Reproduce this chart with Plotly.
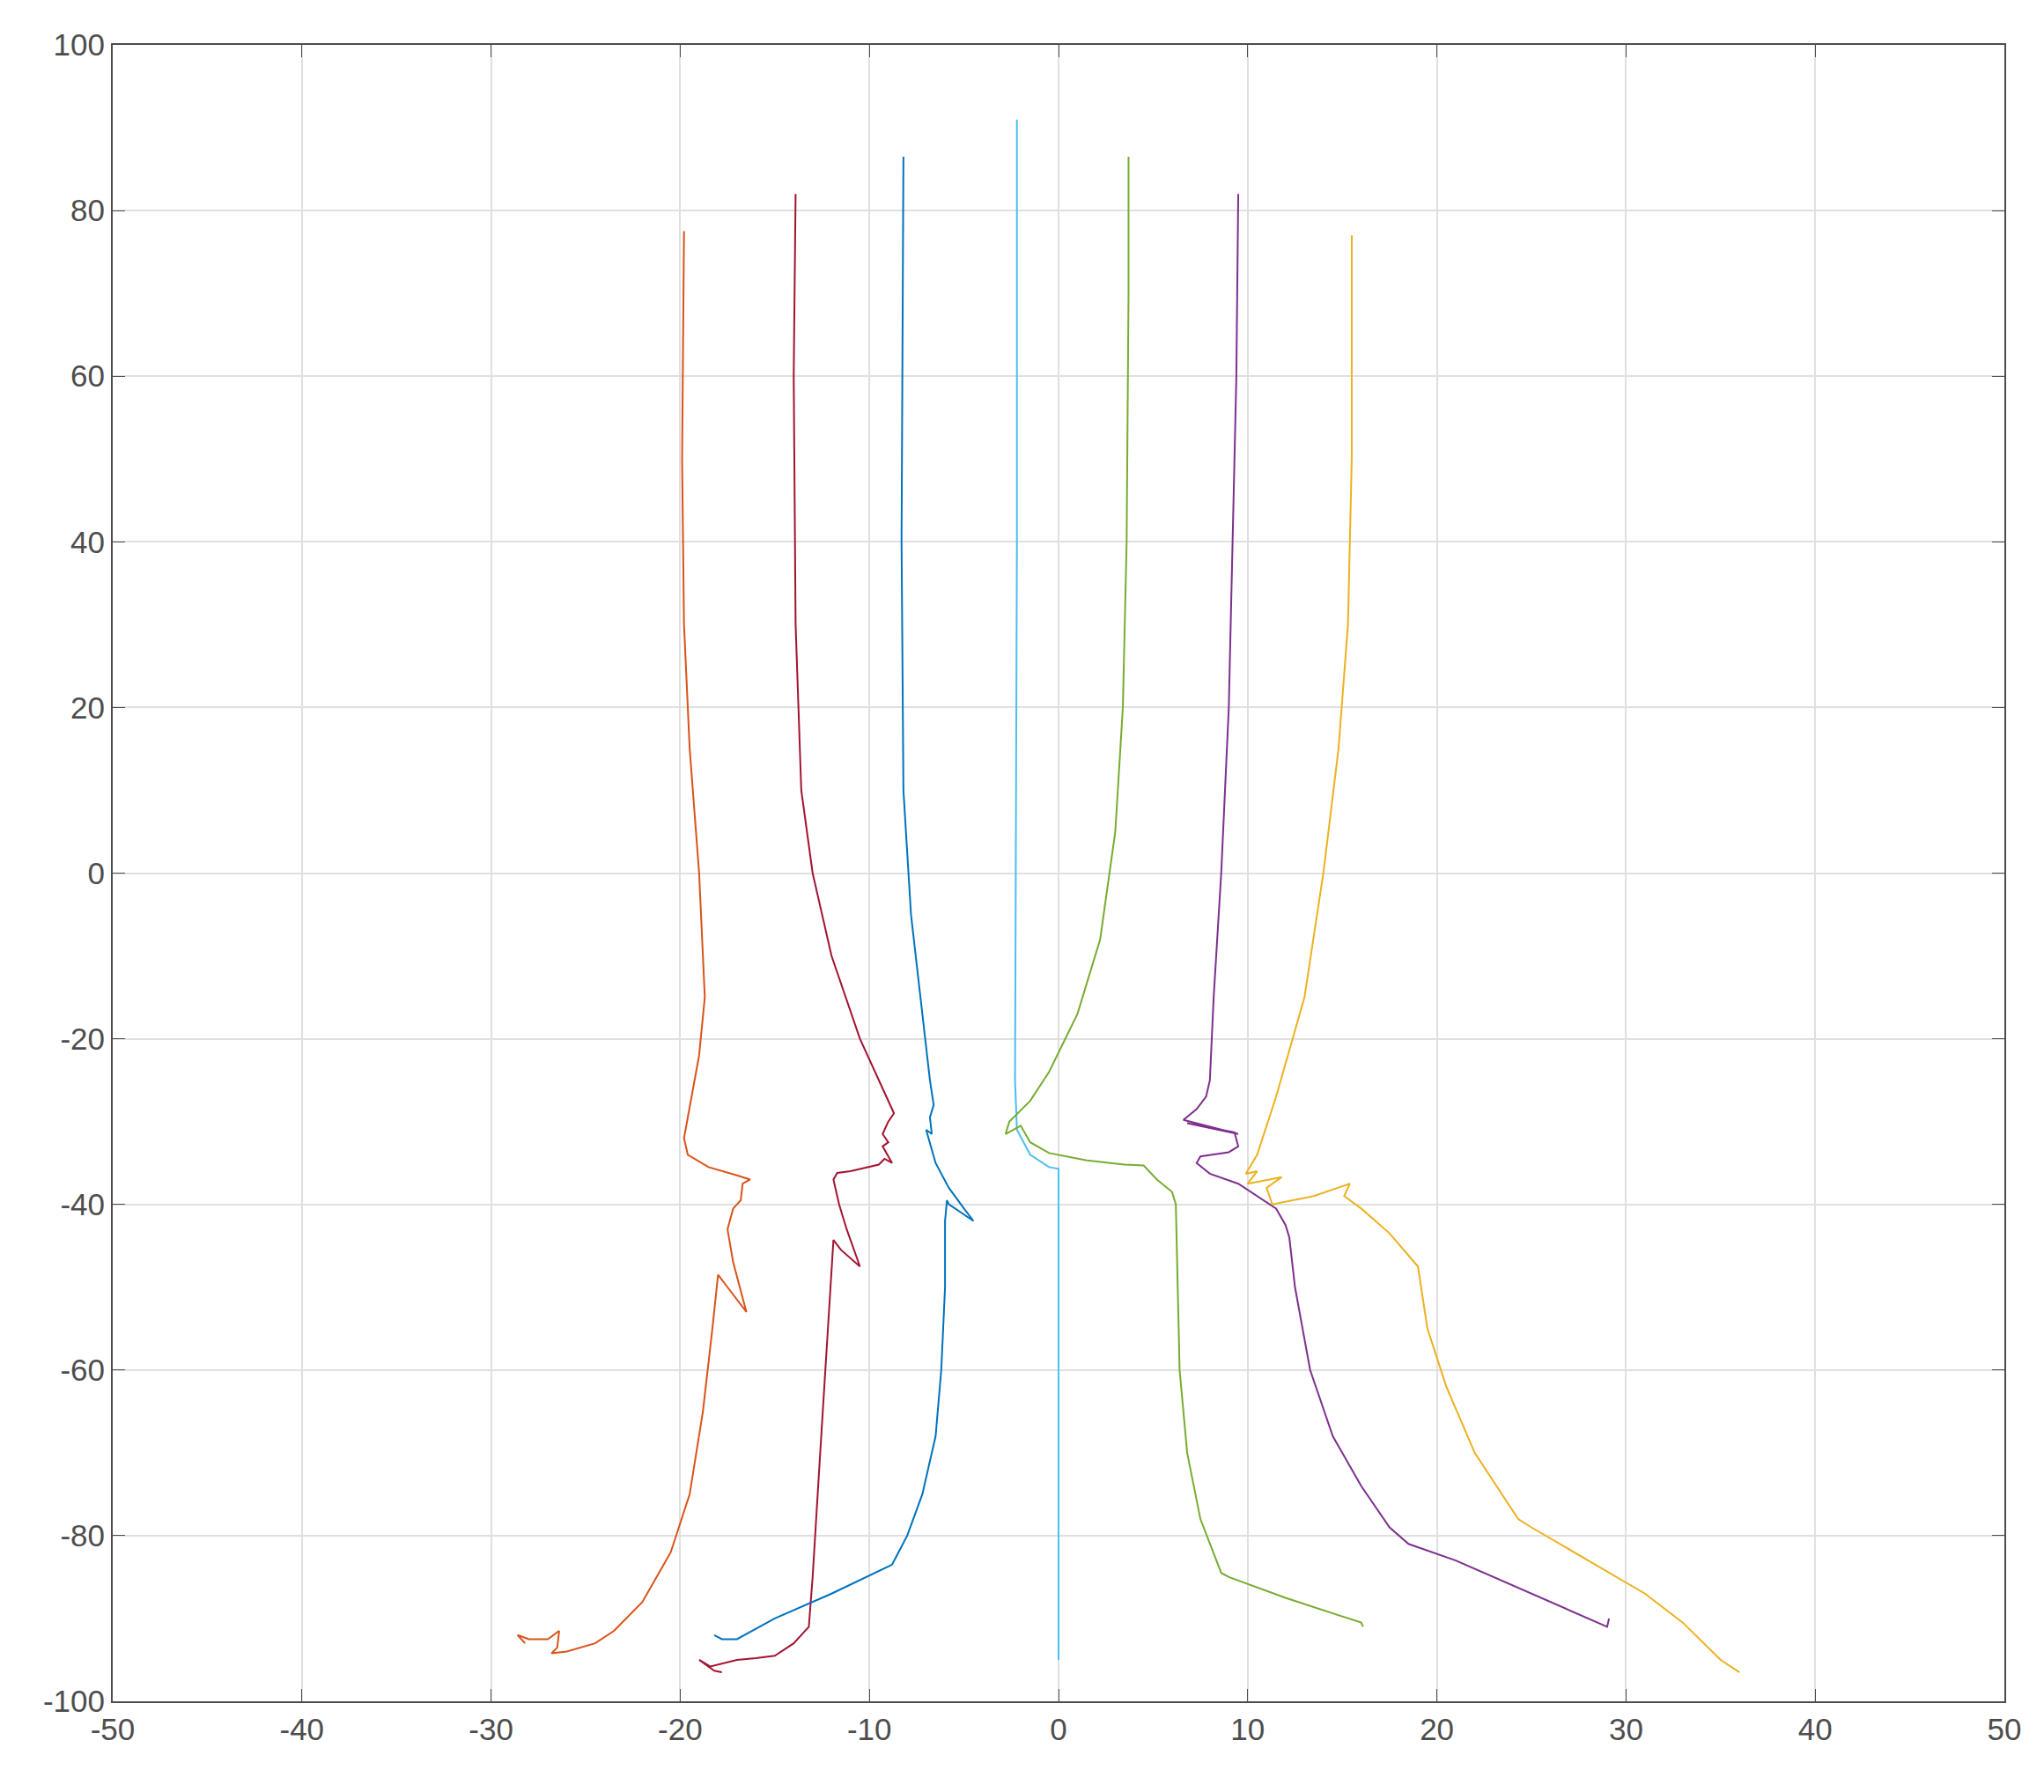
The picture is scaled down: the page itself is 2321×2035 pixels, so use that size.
import plotly.graph_objects as go

# traced paths, one per colour
light_blue_x = [-2.2, -2.2, -2.3, -2.2, -1.5, -0.5, 0, 0]
light_blue_y = [91, 40, -25, -31, -34, -35.5, -35.7, -95]

blue_x = [-8.2, -8.3, -8.2, -7.8, -7.3, -6.8, -6.6, -6.8, -6.7, -7, -6.5, -5.8, -5, -4.5, -5.8, -5.9, -6, -6, -6.2,
          -6.5, -7.2, -8, -8.8, -12, -15, -17, -17.8, -18.2]
blue_y = [86.5, 40, 10, -5, -15, -25, -28, -29.5, -31.5, -31, -35, -38, -40.5, -42, -40, -39.5, -42, -50, -60,
          -68, -75, -80, -83.5, -87, -90, -92.5, -92.5, -92]

dark_red_x = [-13.9, -14, -13.9, -13.6, -13, -12, -10.5, -9.5, -8.7, -9.0, -9.3, -9.0, -9.3, -8.8, -9.2, -9.5, -11,
              -11.7, -11.9, -11.6, -11.2, -10.5, -11.5, -11.9, -12.2, -12.6, -13, -13.2, -14, -15, -16, -17, -18.4,
              -19, -18.2, -17.8]
dark_red_y = [82, 60, 30, 10, 0, -10, -20, -25, -29, -30, -31.5, -32.5, -33, -35, -34.5, -35.2, -36, -36.2, -37,
              -40, -43, -47.5, -45.5, -44.3, -55, -70, -85, -91, -93, -94.5, -94.8, -95, -95.8, -95, -96.3, -96.5]

orange_x = [-19.8, -19.9, -19.8, -19.5, -19, -18.7, -19, -19.5, -19.8, -19.6, -18.5, -17, -16.3, -16.7, -16.8,
            -17.2, -17.5, -17.2, -16.5, -17.5, -18, -18.3, -18.8, -19.5, -20.5, -22, -23.5, -24.5, -26, -26.8,
            -26.5, -26.4, -27, -28, -28.6, -28.2]
orange_y = [77.5, 50, 30, 15, 0, -15, -22, -28, -32, -34, -35.5, -36.5, -37, -37.5, -39.5, -40.5, -43, -47, -53,
            -50, -48.5, -55, -65, -75, -82, -88, -91.5, -93, -94, -94.2, -93.5, -91.5, -92.5, -92.5, -92, -93]

green_x = [3.7, 3.7, 3.6, 3.4, 3.0, 2.2, 1, -0.5, -1.5, -2.6, -2.8, -2.0, -1.5, -0.5, 1.5, 3.5, 4.5, 5.2, 6, 6.2,
           6.3, 6.4, 6.8, 7.5, 8.6, 9, 12, 16, 16.1]
green_y = [86.5, 70, 40, 20, 5, -8, -17, -24, -27.5, -30, -31.5, -30.5, -32.5, -33.8, -34.7, -35.2, -35.3, -37,
           -38.5, -40, -50, -60, -70, -78, -84.5, -85, -87.5, -90.5, -91]

purple_x = [9.5, 9.4, 9.2, 9.0, 8.6, 8.2, 8.0, 7.8, 7.3, 6.6, 9.5, 6.8, 9.3, 9.5, 9.0, 7.5, 7.3, 8, 9.5, 10.5,
            11.5, 12, 12.2, 12.5, 13.3, 14.5, 16, 17.5, 18.5, 21, 25, 29, 29.1]
purple_y = [82, 60, 40, 20, 0, -15, -25, -27, -28.5, -29.8, -31.5, -30.2, -31.3, -33, -33.7, -34.2, -35, -36.3,
            -37.5, -39, -40.5, -42.5, -44, -50, -60, -68, -74, -79, -81, -83, -87, -91, -90]

yellow_x = [15.5, 15.5, 15.3, 14.8, 14, 13, 11.5, 10.5, 9.9, 10.5, 10, 11.8, 11, 11.3, 13.5, 15.4, 15.1, 16, 17.5,
            19, 19.5, 20.5, 22, 24.3, 25, 28, 31, 33, 35, 36]
yellow_y = [77, 50, 30, 15, 0, -15, -27, -34, -36.3, -36, -37.5, -36.7, -38, -40, -39, -37.5, -39, -40.5, -43.5,
            -47.5, -55, -62, -70, -78, -79, -83, -87, -90.5, -95, -96.5]

x_ticks = list(range(-50, 51, 10))
y_ticks = list(range(-100, 101, 20))

series = [
    (orange_x, orange_y, '#D95319'),
    (dark_red_x, dark_red_y, '#A2142F'),
    (blue_x, blue_y, '#0072BD'),
    (light_blue_x, light_blue_y, '#4DBEEE'),
    (green_x, green_y, '#77AC30'),
    (purple_x, purple_y, '#7E2F8E'),
    (yellow_x, yellow_y, '#EDB120'),
]

fig = go.Figure()
for xs, ys, col in series:
    fig.add_trace(go.Scatter(x=xs, y=ys, mode='lines', line=dict(color=col, width=2), showlegend=False))

axis_style = dict(showgrid=True, gridcolor='#e0e0e0', gridwidth=1.5, zeroline=False,
                  showline=True, linecolor='#4d4d4d', linewidth=2, mirror='ticks',
                  ticks='inside', ticklen=14, tickcolor='#4d4d4d',
                  tickfont=dict(family='Liberation Sans, Arial', size=35, color='#4d4d4d'))

# hyphen minus in labels, like the original
fig.update_xaxes(range=[-50, 50], tickvals=x_ticks, ticktext=[str(t) for t in x_ticks], **axis_style)
fig.update_yaxes(range=[-100, 100], tickvals=y_ticks, ticktext=[str(t) for t in y_ticks], **axis_style)
fig.update_layout(width=2321, height=2035, plot_bgcolor='white', paper_bgcolor='white',
                  margin=dict(l=120, r=53, t=43, b=111))

fig.write_html("out.html")
